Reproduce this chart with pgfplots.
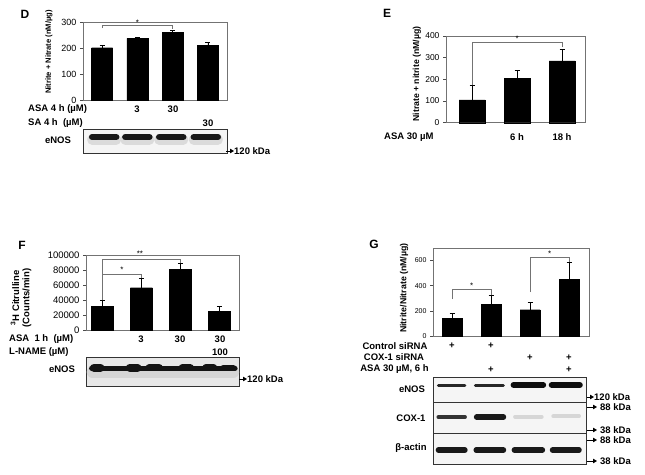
\documentclass[border=0pt]{standalone}
\usepackage{fontspec}
\setmainfont{Liberation Sans}
\usepackage{pgfplots}
\pgfplotsset{compat=1.18}
\usetikzlibrary{arrows.meta}
\newcommand\labfont{\bfseries\fontsize{9.5}{11}\selectfont}
\tikzset{lab/.style={font=\labfont}}
\pgfplotsset{
  barax/.style={
    scale only axis, ybar, bar shift=0pt, ymin=0, clip=false,
    axis line style={black!55, line width=0.6pt},
    xtick=\empty, ytick pos=left, tick align=outside, major tick length=3pt,
    tick style={black!70, line width=0.5pt},
    /pgf/number format/assume math mode=true,
    scaled y ticks=false,
    yticklabel style={/pgf/number format/fixed, /pgf/number format/1000 sep={}},
    error bars/error bar style={black, line width=0.7pt},
    error bars/error mark options={rotate=90, mark size=2.5pt, black, line width=0.7pt},
  },
  blot/.style={scale only axis, ymin=-1, ymax=1, xtick=\empty, ytick=\empty,
    axis line style={black!80, line width=0.6pt}, clip=true,
    axis background/.style={fill=black!4}},
  bracket/.style={sharp plot, no marks, draw=black!55, fill=none, line width=0.6pt, forget plot},
  band/.style={no marks, line cap=round, forget plot},
}
\begin{document}
\begin{tikzpicture}
\useasboundingbox (0pt,0pt) rectangle (645pt,-474pt);
\fill[white] (0pt,0pt) rectangle (645pt,-474pt);

% ================= D =================
\begin{axis}[barax, at={(83pt,-100pt)}, anchor=south west, width=144pt, height=78pt,
  xmin=0.46, xmax=4.54, ymax=300, ytick={0,100,200,300}, bar width=21pt,
  yticklabel style={font=\fontsize{9}{10}\selectfont}]
\addplot[fill=black, draw=black, error bars/.cd, y dir=plus, y explicit]
  coordinates {(1,201) +- (0,10) (2,237) +- (0,3) (3,260) +- (0,9) (4,211) +- (0,12)};
\addplot[bracket] coordinates {(1,276) (1,288) (3,288) (3,273)};
\node[font=\fontsize{8}{8}\selectfont] at (axis cs:2,297) {*};
\end{axis}
\begin{axis}[blot, at={(83pt,-153pt)}, anchor=south west, width=144pt, height=24pt,
  xmin=0.46, xmax=4.54]
\addplot[band, line width=10pt, black!14] coordinates {(0.72,0.12) (1.40,0.12)};
\addplot[band, line width=10pt, black!14] coordinates {(1.66,0.12) (2.34,0.12)};
\addplot[band, line width=10pt, black!14] coordinates {(2.62,0.12) (3.30,0.12)};
\addplot[band, line width=10pt, black!14] coordinates {(3.60,0.12) (4.28,0.12)};
\addplot[band, line width=6.5pt, black!90] coordinates {(0.72,0.33) (1.40,0.33)};
\addplot[band, line width=6.5pt, black!90] coordinates {(1.66,0.33) (2.34,0.33)};
\addplot[band, line width=6.5pt, black!90] coordinates {(2.62,0.33) (3.30,0.33)};
\addplot[band, line width=6.5pt, black!90] coordinates {(3.60,0.33) (4.28,0.33)};
\end{axis}
\node[font=\bfseries\fontsize{12}{12}\selectfont] at (25pt,-14pt) {D};
\node[rotate=90, font=\bfseries\fontsize{7.6}{8}\selectfont] at (49pt,-52pt) {Nitrite + Nitrate (nM/µg)};
\node[lab, anchor=west, inner sep=0] at (28pt,-109pt) {ASA 4 h (µM)};
\node[lab] at (137pt,-109pt) {3};
\node[lab] at (173pt,-109pt) {30};
\node[lab, anchor=west, inner sep=0] at (28pt,-123pt) {SA 4 h\ \ (µM)};
\node[lab] at (208pt,-123pt) {30};
\node[lab] at (58pt,-140pt) {eNOS};
\draw[-{Triangle[length=4pt,width=4.5pt]}, line width=0.8pt] (226pt,-151pt) -- (234pt,-151pt);
\node[lab, anchor=west, inner sep=0] at (234pt,-151pt) {120 kDa};

% ================= E =================
\begin{axis}[barax, at={(446pt,-122.7pt)}, anchor=south west, width=139pt, height=86.7pt,
  xmin=0.42, xmax=3.51, ymax=400, ytick={0,100,200,300,400}, bar width=26pt,
  yticklabel style={font=\fontsize{8.5}{10}\selectfont}]
\addplot[fill=black, draw=black, error bars/.cd, y dir=plus, y explicit]
  coordinates {(1,105) +- (0,66) (2,205) +- (0,35) (3,285) +- (0,54)};
\addplot[bracket] coordinates {(1,172) (1,372) (3,372) (3,349)};
\node[font=\fontsize{8}{8}\selectfont] at (axis cs:2,386) {*};
\end{axis}
\node[font=\bfseries\fontsize{12}{12}\selectfont] at (387pt,-13pt) {E};
\node[rotate=90, font=\bfseries\fontsize{8.7}{9}\selectfont] at (417pt,-74pt) {Nitrate + nitrite (nM/µg)};
\node[lab, anchor=west, inner sep=0] at (384pt,-137pt) {ASA 30 µM};
\node[lab] at (517pt,-137pt) {6 h};
\node[lab] at (562pt,-137pt) {18 h};

% ================= F =================
\begin{axis}[barax, at={(86pt,-330pt)}, anchor=south west, width=153pt, height=75pt,
  xmin=0.577, xmax=4.5, ymax=100000, ytick={0,20000,40000,60000,80000,100000}, bar width=22pt,
  yticklabel style={font=\fontsize{9.5}{10}\selectfont}]
\addplot[fill=black, draw=black, error bars/.cd, y dir=plus, y explicit]
  coordinates {(1,31100) +- (0,8900) (2,56400) +- (0,12500) (3,80900) +- (0,8000) (4,24900) +- (0,6700)};
\addplot[bracket] coordinates {(1,40000) (1,74700) (2,74700) (2,68900)};
\addplot[bracket] coordinates {(1,74700) (1,94700) (3,94700) (3,88900)};
\node[font=\fontsize{8}{8}\selectfont] at (axis cs:1.5,80500) {*};
\node[font=\fontsize{8}{8}\selectfont] at (axis cs:1.96,101500) {**};
\end{axis}
\begin{axis}[blot, at={(86pt,-386pt)}, anchor=south west, width=153pt, height=29pt,
  xmin=0.577, xmax=4.5, axis background/.style={fill=black!9}]
\addplot[band, line width=12pt, black!16] coordinates {(0.75,-0.05) (4.35,-0.05)};
\addplot[band, line width=5pt, black!92] coordinates {(0.72,0.24) (4.40,0.24)};
\addplot[band, line width=8pt, black!92] coordinates {(0.78,0.26) (0.95,0.26)};
\addplot[band, line width=8pt, black!92] coordinates {(1.70,0.26) (1.90,0.26)};
\addplot[band, line width=7.5pt, black!92] coordinates {(2.20,0.26) (2.45,0.26)};
\addplot[band, line width=7.5pt, black!92] coordinates {(3.05,0.26) (3.25,0.26)};
\addplot[band, line width=7pt, black!92] coordinates {(3.65,0.26) (3.85,0.26)};
\addplot[band, line width=6.5pt, black!92] coordinates {(4.10,0.24) (4.35,0.24)};
\end{axis}
\node[font=\bfseries\fontsize{12}{12}\selectfont] at (22pt,-245pt) {F};
\node[rotate=90, font=\bfseries\fontsize{9.5}{10}\selectfont] at (15pt,-298pt) {\textsuperscript{3}H Citrulline};
\node[rotate=90, font=\bfseries\fontsize{9.5}{10}\selectfont] at (27pt,-298pt) {(Counts/min)};
\node[lab, anchor=west, inner sep=0] at (9pt,-339pt) {ASA\ \ 1 h\ \ (µM)};
\node[lab] at (141pt,-339pt) {3};
\node[lab] at (180pt,-339pt) {30};
\node[lab] at (220pt,-339pt) {30};
\node[lab, anchor=west, inner sep=0] at (9pt,-352pt) {L-NAME (µM)};
\node[lab] at (220pt,-352pt) {100};
\node[lab] at (62pt,-369pt) {eNOS};
\draw[-{Triangle[length=4pt,width=4.5pt]}, line width=0.8pt] (239pt,-379pt) -- (247pt,-379pt);
\node[lab, anchor=west, inner sep=0] at (247pt,-379pt) {120 kDa};

% ================= G =================
\begin{axis}[barax, at={(433pt,-336pt)}, anchor=south west, width=156pt, height=88pt,
  xmin=0.51, xmax=4.51, ymax=700, ytick={0,200,400,600}, bar width=20pt,
  yticklabel style={font=\fontsize{7}{8}\selectfont}]
\addplot[fill=black, draw=black, error bars/.cd, y dir=plus, y explicit]
  coordinates {(1,138) +- (0,39) (2,254) +- (0,69) (3,209) +- (0,61) (4,448) +- (0,140)};
\addplot[bracket] coordinates {(1,294) (1,374) (2,374) (2,330)};
\addplot[bracket] coordinates {(3,350) (3,628) (4,628) (4,590)};
\node[font=\fontsize{8}{8}\selectfont] at (axis cs:1.5,398) {*};
\node[font=\fontsize{8}{8}\selectfont] at (axis cs:3.5,655) {*};
\end{axis}
\begin{axis}[blot, at={(433pt,-402pt)}, anchor=south west, width=153pt, height=25pt,
  xmin=0.51, xmax=4.44]
\addplot[band, line width=3pt, black!85] coordinates {(0.65,0.36) (1.33,0.36)};
\addplot[band, line width=3pt, black!85] coordinates {(1.60,0.36) (2.32,0.36)};
\addplot[band, line width=6pt, black!95] coordinates {(2.58,0.36) (3.34,0.36)};
\addplot[band, line width=6pt, black!95] coordinates {(3.56,0.36) (4.28,0.36)};
\end{axis}
\begin{axis}[blot, at={(433pt,-433pt)}, anchor=south west, width=153pt, height=31pt,
  xmin=0.51, xmax=4.44]
\addplot[band, line width=4pt, black!80] coordinates {(0.65,0.03) (1.33,0.03)};
\addplot[band, line width=5.5pt, black!90] coordinates {(1.63,0.03) (2.32,0.03)};
\addplot[band, line width=4pt, black!16] coordinates {(2.62,0.05) (3.30,0.05)};
\addplot[band, line width=4pt, black!16] coordinates {(3.60,0.08) (4.26,0.08)};
\end{axis}
\begin{axis}[blot, at={(433pt,-464pt)}, anchor=south west, width=153pt, height=31pt,
  xmin=0.51, xmax=4.44]
\addplot[band, line width=5.5pt, black!90] coordinates {(0.65,-0.1) (1.33,-0.1)};
\addplot[band, line width=5.5pt, black!90] coordinates {(1.62,-0.1) (2.32,-0.1)};
\addplot[band, line width=5.5pt, black!90] coordinates {(2.60,-0.1) (3.32,-0.1)};
\addplot[band, line width=5.5pt, black!90] coordinates {(3.58,-0.1) (4.26,-0.1)};
\end{axis}
\node[font=\bfseries\fontsize{12}{12}\selectfont] at (374pt,-244pt) {G};
\node[rotate=90, font=\bfseries\fontsize{8.8}{9}\selectfont] at (404pt,-288pt) {Nitrite/Nitrate (nM/µg)};
\node[lab] at (395pt,-346pt) {Control siRNA};
\node[lab] at (394pt,-357.5pt) {COX-1 siRNA};
\node[lab] at (394.5pt,-369.5pt) {ASA 30 µM, 6 h};
\node[lab] at (452pt,-346pt) {+};
\node[lab] at (491pt,-346pt) {+};
\node[lab] at (530pt,-357.5pt) {+};
\node[lab] at (569pt,-357.5pt) {+};
\node[lab] at (491pt,-369.5pt) {+};
\node[lab] at (569pt,-369.5pt) {+};
\node[lab] at (412pt,-389pt) {eNOS};
\node[lab] at (411pt,-418pt) {COX-1};
\node[lab] at (411pt,-448pt) {β-actin};
\draw[-{Triangle[length=4pt,width=4.5pt]}, line width=0.8pt] (587pt,-397pt) -- (594pt,-397pt);
\node[lab, anchor=west, inner sep=0] at (594pt,-397pt) {120 kDa};
\draw[-{Triangle[length=4pt,width=4.5pt]}, line width=0.8pt] (587pt,-407pt) -- (597pt,-407pt);
\node[lab, anchor=west, inner sep=0] at (600pt,-407pt) {88 kDa};
\draw[-{Triangle[length=4pt,width=4.5pt]}, line width=0.8pt] (587pt,-430pt) -- (597pt,-430pt);
\node[lab, anchor=west, inner sep=0] at (600pt,-430pt) {38 kDa};
\draw[-{Triangle[length=4pt,width=4.5pt]}, line width=0.8pt] (587pt,-440pt) -- (597pt,-440pt);
\node[lab, anchor=west, inner sep=0] at (600pt,-440pt) {88 kDa};
\draw[-{Triangle[length=4pt,width=4.5pt]}, line width=0.8pt] (587pt,-461pt) -- (597pt,-461pt);
\node[lab, anchor=west, inner sep=0] at (600pt,-461pt) {38 kDa};
\end{tikzpicture}
\end{document}
